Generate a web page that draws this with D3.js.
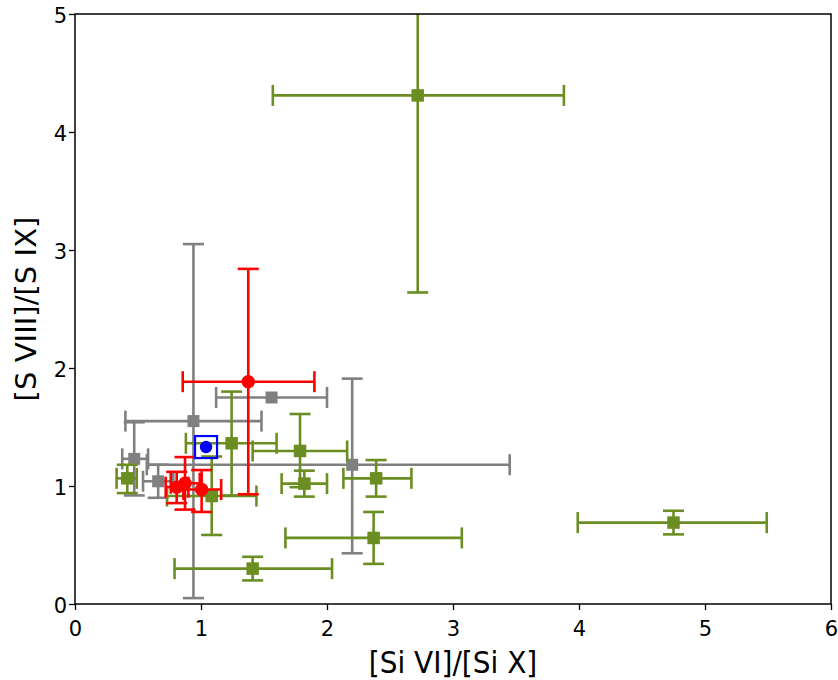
<!DOCTYPE html>
<html><head><meta charset="utf-8">
<script src="https://cdn.jsdelivr.net/npm/d3@7"></script>
<style>body{margin:0;background:#fff}svg{display:block}text{font-family:"DejaVu Sans",sans-serif}</style>
</head><body><svg id="c" width="838" height="680"></svg>
<script>
// Data: [x, y, xLow, xHigh, yLow, yHigh]
const graySeries = [
  [0.94, 1.55, 0.40, 1.48, 0.05, 3.05],
  [1.56, 1.75, 1.12, 2.00, 1.75, 1.75],
  [0.47, 1.23, 0.375, 0.58, 0.92, 1.54],
  [0.66, 1.04, 0.54, 0.78, 0.90, 1.18],
  [2.20, 1.18, 0.57, 3.45, 0.43, 1.91]
];
const greenSeries = [
  [2.72, 4.31, 1.57, 3.88, 2.64, 5.98],
  [4.75, 0.69, 3.99, 5.49, 0.59, 0.79],
  [2.37, 0.56, 1.67, 3.07, 0.34, 0.78],
  [1.41, 0.30, 0.79, 2.04, 0.20, 0.40],
  [2.39, 1.065, 2.13, 2.67, 0.91, 1.22],
  [1.82, 1.02, 1.64, 2.00, 0.91, 1.13],
  [1.786, 1.297, 1.41, 2.16, 0.99, 1.61],
  [1.243, 1.362, 0.88, 1.60, 0.92, 1.80],
  [1.085, 0.915, 0.73, 1.44, 0.585, 1.25],
  [0.415, 1.065, 0.33, 0.49, 0.94, 1.18]
];
const redSeries = [
  [1.375, 1.884, 0.855, 1.90, 0.93, 2.84],
  [1.005, 0.97, 0.86, 1.16, 0.78, 1.135],
  [0.873, 1.023, 0.76, 0.99, 0.80, 1.245],
  [0.807, 0.99, 0.72, 0.90, 0.855, 1.12]
];
const blueSeries = [
  [1.04, 1.33, 1.04, 1.04, 1.28, 1.38]
];
const xTicks = [0, 1, 2, 3, 4, 5, 6];
const yTicks = [0, 1, 2, 3, 4, 5];
const xLabel = "[Si VI]/[Si X]";
const yLabel = "[S VIII]/[S IX]";

const svg = d3.select("#c");
const L = 75, R = 831, T = 14, B = 604;
const x = d3.scaleLinear().domain([0, 6]).range([L, R]);
const y = d3.scaleLinear().domain([0, 5]).range([B, T]);

svg.append("defs").append("clipPath").attr("id", "clip")
  .append("rect").attr("x", L).attr("y", T).attr("width", R - L).attr("height", B - T);

const plot = svg.append("g").attr("clip-path", "url(#clip)");
const lw = 2.6;

function errorbars(data, color, marker, size, cap) {
  const g = plot.append("g");
  data.forEach(d => {
    const [cx, cy, x0, x1, y0, y1] = d;
    const e = g.append("g").attr("stroke", color).attr("stroke-width", lw).attr("fill", "none");
    if (x1 > x0) {
      e.append("line").attr("x1", x(x0)).attr("x2", x(x1)).attr("y1", y(cy)).attr("y2", y(cy));
      if (cap > 0) [x0, x1].forEach(v => e.append("line").attr("x1", x(v)).attr("x2", x(v)).attr("y1", y(cy) - cap).attr("y2", y(cy) + cap));
    }
    if (y1 > y0) {
      e.append("line").attr("x1", x(cx)).attr("x2", x(cx)).attr("y1", y(y0)).attr("y2", y(y1));
      if (cap > 0) [y0, y1].forEach(v => e.append("line").attr("y1", y(v)).attr("y2", y(v)).attr("x1", x(cx) - cap).attr("x2", x(cx) + cap));
    }
  });
  data.forEach(d => {
    const [cx, cy] = d;
    if (marker === "s") {
      g.append("rect").attr("x", x(cx) - size / 2).attr("y", y(cy) - size / 2)
        .attr("width", size).attr("height", size).attr("fill", color);
    } else {
      g.append("circle").attr("cx", x(cx)).attr("cy", y(cy)).attr("r", size / 2).attr("fill", color);
    }
  });
  return g;
}

errorbars(graySeries, "#808080", "s", 12, 10.5);
errorbars(greenSeries, "#6b8e23", "s", 12.5, 10.5);
errorbars(redSeries, "#ff0000", "o", 13.5, 10.5);
const bg = errorbars(blueSeries, "#0000ff", "o", 12.5, 0);
blueSeries.forEach(d => {
  bg.append("rect").attr("x", x(d[0]) - 11).attr("y", y(d[1]) - 11).attr("width", 22).attr("height", 22)
    .attr("fill", "none").attr("stroke", "#0000ff").attr("stroke-width", 2.2);
});

// Axes
const fmt = d3.format("d");
const xa = svg.append("g").attr("transform", `translate(0,${B})`)
  .call(d3.axisBottom(x).tickValues(xTicks).tickFormat(fmt).tickSize(6).tickPadding(4));
const ya = svg.append("g").attr("transform", `translate(${L},0)`)
  .call(d3.axisLeft(y).tickValues(yTicks).tickFormat(fmt).tickSize(6).tickPadding(5));
[xa, ya].forEach(a => {
  a.select(".domain").remove();
  a.selectAll(".tick line").attr("stroke", "#000").attr("stroke-width", 1.3);
  a.selectAll(".tick text").attr("font-size", 21).attr("fill", "#000");
});
xa.selectAll(".tick text").attr("y", 0).attr("dy", 0).attr("transform", "translate(0,32)");
ya.selectAll(".tick text").attr("x", 0).attr("dy", 0).attr("transform", "translate(-8,8)");

svg.append("rect").attr("x", L).attr("y", T).attr("width", R - L).attr("height", B - T)
  .attr("fill", "none").attr("stroke", "#000").attr("stroke-width", 1.5);

svg.append("text").attr("transform", `translate(${(L + R) / 2},673) scale(1,1.1)`).attr("text-anchor", "middle")
  .attr("font-size", 28).attr("fill", "#000").text(xLabel);
svg.append("text").attr("transform", `translate(36,${(T + B) / 2}) rotate(-90) scale(1.04,1)`)
  .attr("text-anchor", "middle").attr("font-size", 28).attr("fill", "#000").text(yLabel);
</script></body></html>
